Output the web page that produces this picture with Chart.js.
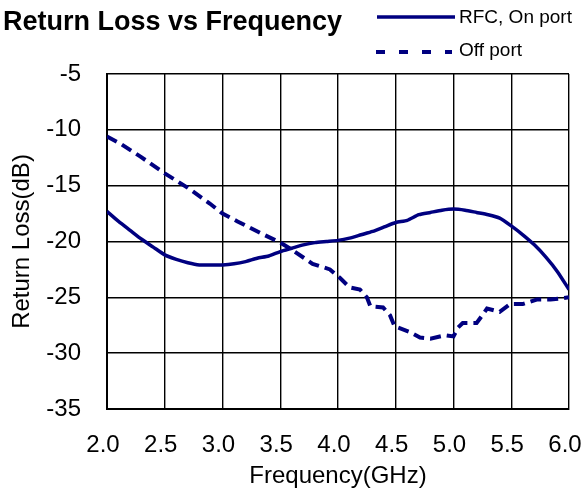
<!DOCTYPE html>
<html>
<head>
<meta charset="utf-8">
<script src="https://cdn.jsdelivr.net/npm/chart.js@4"></script>
<style>
  html, body { margin: 0; padding: 0; background: #fff; }
  #wrap { width: 584px; height: 489px; position: relative; }
</style>
</head>
<body>
<div id="wrap"><canvas id="canvas"></canvas></div>
<script>
// RFC, On port (solid)
const onFreq = [2.0, 2.1, 2.2, 2.3, 2.4, 2.5, 2.6, 2.7, 2.8, 2.9, 3.0, 3.1, 3.2, 3.3, 3.4, 3.5, 3.6, 3.7, 3.8, 3.9,
                4.0, 4.1, 4.2, 4.3, 4.4, 4.5, 4.6, 4.7, 4.8, 4.9, 5.0, 5.1, 5.2, 5.3, 5.4, 5.5, 5.6, 5.7, 5.8, 5.9, 6.0];
const onLoss = [-17.3, -18.2, -19.0, -19.8, -20.5, -21.2, -21.6, -21.9, -22.1, -22.1, -22.1, -22.0, -21.8, -21.5, -21.3, -20.9, -20.6, -20.3, -20.1, -20.0,
                -19.9, -19.7, -19.4, -19.1, -18.7, -18.3, -18.1, -17.6, -17.4, -17.2, -17.1, -17.2, -17.4, -17.6, -17.9, -18.6, -19.4, -20.3, -21.4, -22.7, -24.3];

// Off port (dashed)
const offFreq = [2.0, 2.11, 2.29, 2.5, 2.7, 2.89, 3.0, 3.13, 3.32, 3.5, 3.61, 3.78, 3.93, 4.02, 4.1, 4.19, 4.25, 4.28, 4.39, 4.45,
                 4.49, 4.62, 4.71, 4.8, 4.93, 5.0, 5.04, 5.08, 5.2, 5.25, 5.29, 5.4, 5.49, 5.6, 5.72, 5.84, 6.0];
const offLoss = [-10.6, -11.2, -12.4, -13.9, -15.2, -16.6, -17.5, -18.2, -19.2, -20.1, -20.8, -22.0, -22.5, -23.3, -24.1, -24.3, -25.0, -25.8, -25.9, -26.6,
                 -27.6, -28.1, -28.6, -28.7, -28.4, -28.5, -27.7, -27.3, -27.3, -26.6, -26.0, -26.3, -25.6, -25.6, -25.2, -25.2, -25.0];

const xTicks = [2.0, 2.5, 3.0, 3.5, 4.0, 4.5, 5.0, 5.5, 6.0];
const yTicks = [-5, -10, -15, -20, -25, -30, -35];

const seriesNames = ["RFC, On port", "Off port"];
const chartTitle = "Return Loss vs Frequency";

const navy = "#000080";
const font = '"Liberation Sans", Arial, sans-serif';

const toPoints = (xs, ys) => xs.map((x, i) => ({ x: x, y: ys[i] }));

// title + custom legend drawn above the plot
const headerPlugin = {
   id: "header",
   afterDraw(chart) {
      const ctx = chart.ctx;
      ctx.save();
      ctx.fillStyle = "#000";
      ctx.textBaseline = "middle";
      ctx.font = "bold 27px " + font;
      ctx.fillText(chartTitle, 3, 23);

      ctx.strokeStyle = navy;
      ctx.lineWidth = 3.5;
      ctx.beginPath();
      ctx.moveTo(377, 17);
      ctx.lineTo(455, 17);
      ctx.stroke();
      ctx.lineWidth = 4;
      ctx.setLineDash([9, 14]);
      ctx.beginPath();
      ctx.moveTo(376, 52);
      ctx.lineTo(452, 52);
      ctx.stroke();
      ctx.setLineDash([]);

      ctx.font = "19px " + font;
      ctx.fillText(seriesNames[0], 459, 18);
      ctx.fillText(seriesNames[1], 459, 51);
      ctx.restore();
   }
};

const config = {
   type: "line",
   data: {
      datasets: [
         {
            label: seriesNames[0],
            data: toPoints(onFreq, onLoss),
            borderColor: navy,
            borderWidth: 3.5,
            pointRadius: 0,
            tension: 0.2
         },
         {
            label: seriesNames[1],
            data: toPoints(offFreq, offLoss),
            borderColor: navy,
            borderWidth: 4,
            borderDash: [11, 6],
            pointRadius: 0,
            tension: 0
         }
      ]
   },
   options: {
      responsive: true,
      maintainAspectRatio: false,
      animation: false,
      layout: { padding: { top: 74, right: 15, left: 0, bottom: 0 } },
      plugins: {
         legend: { display: false },
         tooltip: { enabled: false }
      },
      scales: {
         x: {
            type: "linear",
            min: xTicks[0],
            max: xTicks[xTicks.length - 1],
            afterBuildTicks: (scale) => { scale.ticks = xTicks.map(v => ({ value: v })); },
            afterFit: (scale) => {
               scale.height = 80;
               scale.paddingLeft = 0;
               scale.paddingRight = 0;
            },
            ticks: {
               color: "#000",
               font: { family: font, size: 24 },
               padding: 22,
               labelOffset: -4,
               maxRotation: 0,
               autoSkip: false,
               callback: (v) => Number(v).toFixed(1)
            },
            grid: { color: "#000", lineWidth: 1.4, drawTicks: false },
            border: { color: "#000", width: 2 },
            title: {
               display: true,
               text: "Frequency(GHz)",
               color: "#000",
               font: { family: font, size: 24, lineHeight: 1 },
               padding: { top: 0, bottom: 1 }
            }
         },
         y: {
            min: yTicks[yTicks.length - 1],
            max: yTicks[0],
            afterBuildTicks: (scale) => { scale.ticks = yTicks.map(v => ({ value: v })); },
            afterFit: (scale) => { scale.width = 107; },
            ticks: {
               color: "#000",
               font: { family: font, size: 24 },
               padding: 26
            },
            grid: { color: "#000", lineWidth: 1.4, drawTicks: false },
            border: { color: "#000", width: 2 },
            title: {
               display: true,
               text: "Return Loss(dB)",
               color: "#000",
               font: { family: font, size: 24, lineHeight: 1 },
               padding: { top: 10, bottom: 0 }
            }
         }
      }
   },
   plugins: [headerPlugin]
};

const chart = new Chart(document.getElementById("canvas"), config);
</script>
</body>
</html>
